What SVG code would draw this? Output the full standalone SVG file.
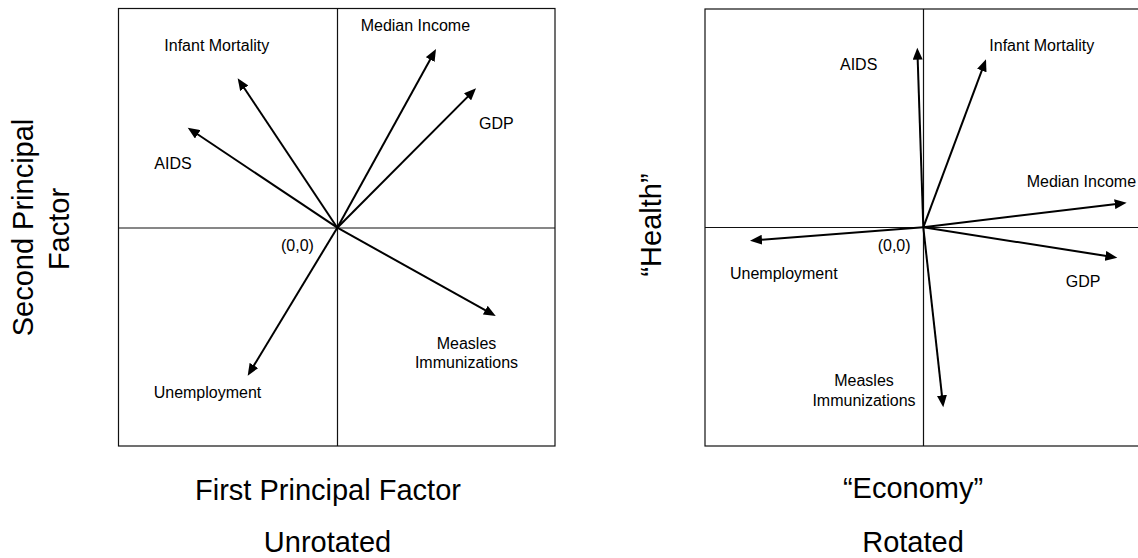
<svg xmlns="http://www.w3.org/2000/svg" width="1138" height="558" viewBox="0 0 1138 558">
<style>
text{font-family:"Liberation Sans",Arial,sans-serif;fill:#000}
.lbl{font-size:16px}
.big{font-size:29px}
.box{fill:#fff;stroke:#111;stroke-width:1.2}
.axis{stroke:#111;stroke-width:1.2;fill:none}
.vec{stroke:#000;stroke-width:2;fill:none;marker-end:url(#ah)}
</style>
<defs>
<marker id="ah" markerUnits="userSpaceOnUse" markerWidth="13" markerHeight="10" refX="6" refY="5" orient="auto">
<path d="M0,0 L12,5 L0,10 z" fill="#000"/>
</marker>
</defs>
<rect width="1138" height="558" fill="#fff"/>

<g id="left-panel">
<rect class="box" x="118.5" y="8.5" width="436.5" height="437.5"/>
<line class="axis" x1="337.5" y1="8.5" x2="337.5" y2="446"/>
<line class="axis" x1="118.5" y1="228" x2="555" y2="228"/>
</g>
<g id="right-panel">
<rect class="box" x="705" y="9" width="436" height="437"/>
<line class="axis" x1="923.5" y1="9" x2="923.5" y2="446"/>
<line class="axis" x1="705" y1="227.5" x2="1141" y2="227.5"/>
</g>

<g id="connectors">
<line class="vec" x1="337.3" y1="227.7" x2="241.0" y2="83.3"/>
<line class="vec" x1="337.3" y1="227.7" x2="192.7" y2="131.0"/>
<line class="vec" x1="337.3" y1="227.7" x2="433.1" y2="54.3"/>
<line class="vec" x1="337.3" y1="227.7" x2="471.8" y2="92.6"/>
<line class="vec" x1="337.3" y1="227.7" x2="490.5" y2="313.1"/>
<line class="vec" x1="337.3" y1="227.7" x2="250.8" y2="370.6"/>
<line class="vec" x1="923.3" y1="227.3" x2="917.5" y2="53.7"/>
<line class="vec" x1="923.3" y1="227.3" x2="983.9" y2="64.9"/>
<line class="vec" x1="923.3" y1="227.3" x2="1120.7" y2="203.4"/>
<line class="vec" x1="923.3" y1="227.3" x2="1111.4" y2="256.8"/>
<line class="vec" x1="923.3" y1="227.3" x2="942.6" y2="401.3"/>
<line class="vec" x1="923.3" y1="227.3" x2="756.0" y2="240.2"/>
</g>

<g id="left-labels">
<text class="lbl" x="164.3" y="50.7">Infant Mortality</text>
<text class="lbl" x="360.7" y="30.7">Median Income</text>
<text class="lbl" x="479" y="129.3">GDP</text>
<text class="lbl" x="154.3" y="169.3">AIDS</text>
<text class="lbl" x="281" y="250.5">(0,0)</text>
<text class="lbl" x="466.5" y="349" text-anchor="middle">Measles</text>
<text class="lbl" x="466.5" y="368.3" text-anchor="middle">Immunizations</text>
<text class="lbl" x="153.7" y="398.3">Unemployment</text>
</g>
<g id="right-labels">
<text class="lbl" x="840" y="70">AIDS</text>
<text class="lbl" x="989.3" y="50.7">Infant Mortality</text>
<text class="lbl" x="1026.7" y="187.3">Median Income</text>
<text class="lbl" x="1065.7" y="286.7">GDP</text>
<text class="lbl" x="877.7" y="250.5">(0,0)</text>
<text class="lbl" x="730" y="279.3">Unemployment</text>
<text class="lbl" x="864" y="386" text-anchor="middle">Measles</text>
<text class="lbl" x="864" y="406" text-anchor="middle">Immunizations</text>
</g>

<g id="axis-titles">
<text class="big" transform="translate(33.3,227.5) rotate(-90)" text-anchor="middle">Second Principal</text>
<text class="big" transform="translate(69.3,229) rotate(-90)" text-anchor="middle">Factor</text>
<text class="big" x="328" y="500" text-anchor="middle">First Principal Factor</text>
<text class="big" x="327.5" y="551.7" text-anchor="middle">Unrotated</text>
<text class="big" transform="translate(661,225) rotate(-90)" text-anchor="middle">“Health”</text>
<text class="big" x="913" y="498.3" text-anchor="middle">“Economy”</text>
<text class="big" x="913" y="551.7" text-anchor="middle">Rotated</text>
</g>
</svg>
